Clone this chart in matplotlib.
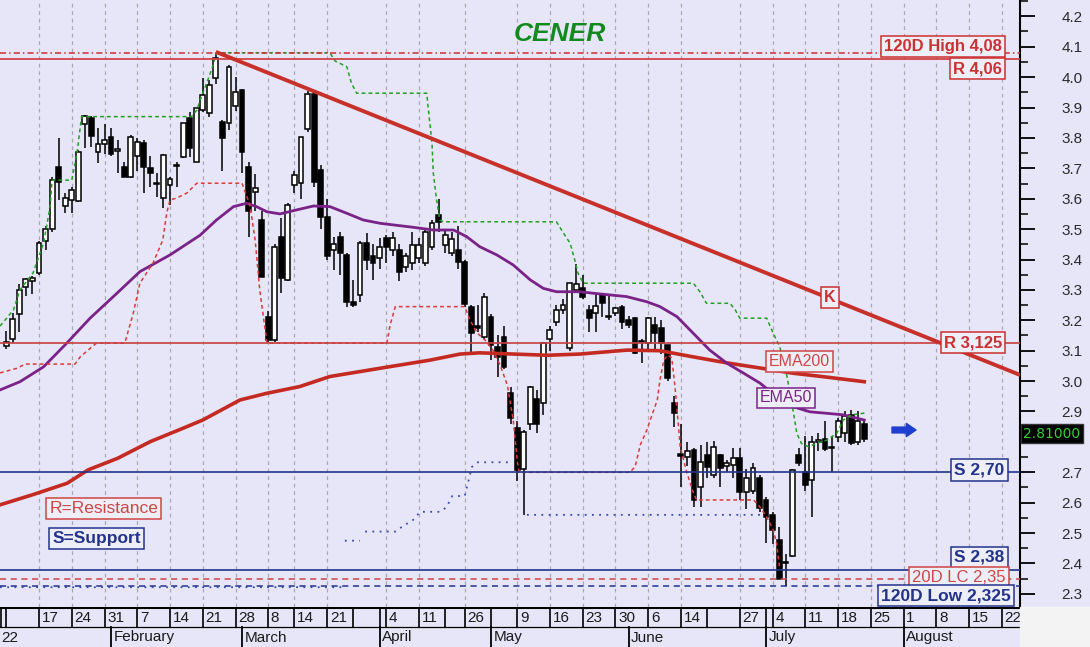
import numpy as np
import pandas as pd
import matplotlib
matplotlib.use('Agg')
import matplotlib.pyplot as plt
from matplotlib.patches import Rectangle

plt.rcParams['font.family'] = ['Liberation Sans', 'DejaVu Sans']

# ---------------- data ----------------
title = "CENER"
missing_days = ['2022-03-07', '2022-03-25', '2022-04-15', '2022-04-18', '2022-04-22',
                '2022-04-25', '2022-05-02', '2022-06-13']
blank_weeks = ['2022-01-10', '2022-03-28', '2022-04-19', '2022-05-03', '2022-06-20']
quarter_marks = ['2022-04-01', '2022-07-01']
month_labels = {2: 'February', 3: 'March', 4: 'April', 5: 'May', 6: 'June', 7: 'July', 8: 'August'}
first_month_label = '22'

opens = [3.115, 3.140, 3.220, 3.310, 3.330, 3.355, 3.460, 3.500, 3.705, 3.576,
         3.596, 3.593, 3.846, 3.864, 3.755, 3.780, 3.804, 3.758, 3.705, 3.672,
         3.740, 3.782, 3.700, 3.648, 3.602, 3.645, 3.708, 3.738, 3.864, 3.722,
         3.891, 3.883, 3.996, 3.853, 3.848, 3.905, 3.958, 3.705, 3.623, 3.530,
         3.212, 3.135, 3.475, 3.332, 3.645, 3.653, 3.830, 3.944, 3.695, 3.540,
         3.430, 3.475, 3.415, 3.261, 3.283, 3.453, 3.410, 3.404, 3.470, 3.431,
         3.431, 3.376, 3.388, 3.404, 3.388, 3.442, 3.547, 3.448, 3.420, 3.431,
         3.393, 3.245, 3.180, 3.146, 3.212, 3.113, 3.146, 2.960, 2.845, 2.710,
         2.860, 2.940, 2.927, 3.140, 3.195, 3.233, 3.108, 3.300, 3.306, 3.234,
         3.223, 3.283, 3.214, 3.223, 3.243, 3.200, 3.206, 3.128, 3.124, 3.185,
         3.174, 3.118, 2.927, 2.760, 2.750, 2.773, 2.652, 2.757, 2.690, 2.757,
         2.720, 2.724, 2.746, 2.636, 2.640, 2.680, 2.609, 2.560, 2.477, 2.400,
         2.424, 2.757, 2.702, 2.675, 2.800, 2.810, 2.780, 2.817, 2.830, 2.890,
         2.800, 2.858]
highs = [3.165, 3.225, 3.320, 3.340, 3.345, 3.460, 3.510, 3.670, 3.800, 3.618,
         3.640, 3.760, 3.875, 3.872, 3.831, 3.846, 3.834, 3.793, 3.720, 3.810,
         3.800, 3.793, 3.740, 3.684, 3.747, 3.670, 3.720, 3.850, 3.886, 3.900,
         3.997, 3.990, 4.080, 3.860, 4.040, 4.000, 3.960, 3.720, 3.680, 3.560,
         3.230, 3.450, 3.536, 3.585, 3.690, 3.802, 3.955, 3.955, 3.710, 3.600,
         3.475, 3.490, 3.420, 3.333, 3.460, 3.487, 3.450, 3.470, 3.480, 3.490,
         3.450, 3.420, 3.490, 3.470, 3.500, 3.530, 3.600, 3.500, 3.490, 3.510,
         3.400, 3.250, 3.250, 3.290, 3.220, 3.150, 3.180, 2.980, 2.870, 2.840,
         2.985, 2.970, 3.130, 3.180, 3.250, 3.270, 3.322, 3.385, 3.350, 3.250,
         3.290, 3.290, 3.280, 3.245, 3.250, 3.215, 3.210, 3.140, 3.210, 3.210,
         3.200, 3.120, 2.950, 2.860, 2.800, 2.780, 2.790, 2.800, 2.803, 2.760,
         2.740, 2.780, 2.780, 2.710, 2.730, 2.690, 2.620, 2.570, 2.520, 2.430,
         2.710, 2.780, 2.820, 2.820, 2.830, 2.870, 2.820, 2.880, 2.900, 2.905,
         2.900, 2.875]
lows = [3.105, 3.125, 3.160, 3.280, 3.285, 3.350, 3.430, 3.490, 3.595, 3.553,
        3.553, 3.590, 3.767, 3.771, 3.716, 3.747, 3.740, 3.684, 3.670, 3.668,
        3.690, 3.618, 3.640, 3.606, 3.569, 3.580, 3.640, 3.735, 3.738, 3.720,
        3.886, 3.870, 3.977, 3.690, 3.826, 3.890, 3.683, 3.475, 3.560, 3.343,
        3.130, 3.130, 3.290, 3.330, 3.620, 3.600, 3.820, 3.640, 3.500, 3.400,
        3.365, 3.350, 3.245, 3.245, 3.260, 3.365, 3.333, 3.370, 3.390, 3.413,
        3.330, 3.360, 3.365, 3.390, 3.380, 3.430, 3.490, 3.420, 3.410, 3.370,
        3.245, 3.092, 3.160, 3.140, 3.070, 3.015, 3.040, 2.860, 2.670, 2.560,
        2.840, 2.830, 2.890, 3.100, 3.180, 3.220, 3.100, 3.290, 3.270, 3.160,
        3.160, 3.210, 3.200, 3.215, 3.170, 3.175, 3.090, 3.060, 3.100, 3.100,
        3.090, 3.000, 2.850, 2.650, 2.720, 2.587, 2.587, 2.680, 2.680, 2.650,
        2.700, 2.680, 2.610, 2.580, 2.630, 2.570, 2.467, 2.465, 2.357, 2.325,
        2.420, 2.720, 2.640, 2.554, 2.770, 2.770, 2.700, 2.800, 2.800, 2.790,
        2.790, 2.800]
closes = [3.130, 3.205, 3.300, 3.335, 3.340, 3.455, 3.500, 3.660, 3.655, 3.602,
          3.627, 3.755, 3.872, 3.806, 3.780, 3.793, 3.747, 3.762, 3.672, 3.804,
          3.787, 3.705, 3.684, 3.650, 3.744, 3.664, 3.712, 3.848, 3.766, 3.897,
          3.941, 3.974, 4.062, 3.799, 4.034, 3.952, 3.755, 3.560, 3.635, 3.343,
          3.135, 3.442, 3.338, 3.579, 3.678, 3.802, 3.944, 3.656, 3.540, 3.410,
          3.450, 3.420, 3.261, 3.250, 3.453, 3.398, 3.388, 3.442, 3.442, 3.470,
          3.360, 3.410, 3.448, 3.448, 3.492, 3.519, 3.524, 3.480, 3.466, 3.393,
          3.254, 3.157, 3.174, 3.278, 3.119, 3.080, 3.047, 2.880, 2.707, 2.834,
          2.980, 2.860, 3.124, 3.167, 3.233, 3.250, 3.322, 3.320, 3.277, 3.206,
          3.247, 3.256, 3.210, 3.240, 3.195, 3.185, 3.092, 3.130, 3.206, 3.157,
          3.124, 3.010, 2.894, 2.755, 2.770, 2.608, 2.735, 2.718, 2.782, 2.713,
          2.730, 2.746, 2.636, 2.680, 2.713, 2.582, 2.554, 2.510, 2.350, 2.405,
          2.708, 2.730, 2.658, 2.800, 2.805, 2.776, 2.780, 2.870, 2.885, 2.795,
          2.870, 2.810]

# indicator lines (trading-day index, price)
ema200_idx = [-0.95, 4, 9.3, 12.5, 17, 22, 27, 30, 35.7, 39.8, 44.8, 49.4, 57, 64.7,
              69.3, 72.3, 77.4, 82.6, 87.6, 94.8, 99.8, 104.8, 110, 115.1, 120.1, 125.3, 131]
ema200_val = [2.593, 2.626, 2.664, 2.708, 2.746, 2.801, 2.845, 2.872, 2.938, 2.960,
              2.982, 3.015, 3.042, 3.069, 3.089, 3.093, 3.089, 3.085, 3.089, 3.102,
              3.100, 3.080, 3.060, 3.043, 3.026, 3.013, 2.998]
ema50_idx = [-0.95, 2.1, 5.7, 9.2, 12.8, 16.9, 20.4, 25.0, 29.6, 32.1, 34.7, 36.7, 38.2,
             39.8, 41.8, 44.3, 46.9, 49.4, 52.0, 54.5, 57.1, 62.1, 65.2, 68.3, 70.3, 72.3,
             74.9, 77.4, 80.0, 82.0, 84.0, 87.6, 89.6, 94.7, 97.8, 99.8, 102.4, 104.9,
             107.4, 110.0, 112.5, 115.1, 117.6, 120.1, 122.7, 125.3, 127.8, 131]
ema50_val = [2.971, 2.998, 3.047, 3.124, 3.207, 3.289, 3.360, 3.415, 3.480, 3.530,
             3.574, 3.585, 3.574, 3.557, 3.550, 3.563, 3.576, 3.574, 3.552, 3.530,
             3.519, 3.506, 3.497, 3.497, 3.475, 3.442, 3.415, 3.382, 3.333, 3.305,
             3.294, 3.294, 3.289, 3.278, 3.261, 3.245, 3.212, 3.157, 3.102, 3.059,
             3.027, 2.993, 2.949, 2.916, 2.899, 2.894, 2.889, 2.872]
upper_idx = [-0.95, 1.1, 2.1, 4.1, 5.7, 6.7, 7.0, 10.0, 10.8, 11.5, 28.3, 29.1, 29.8,
             30.6, 31.6, 32.1, 49.4, 50.2, 52.0, 52.7, 53.5, 64.2, 64.4, 65.0, 65.2,
             65.7, 66.2, 66.7, 84.0, 85.1, 86.1, 86.8, 87.3, 88.1, 104.9, 105.9, 106.9,
             110.5, 111.3, 112.0, 116.1, 117.1, 118.1, 119.2, 120.2, 120.7, 121.4,
             122.5, 123.7, 125.3, 126.8, 127.8, 129.1, 131.1]
upper_val = [3.181, 3.234, 3.300, 3.356, 3.454, 3.574, 3.661, 3.661, 3.749, 3.870,
             3.870, 3.892, 3.936, 3.980, 4.040, 4.080, 4.080, 4.053, 4.034, 3.980,
             3.947, 3.947, 3.903, 3.782, 3.684, 3.596, 3.530, 3.524, 3.524, 3.486,
             3.453, 3.398, 3.355, 3.322, 3.322, 3.294, 3.256, 3.256, 3.234, 3.207,
             3.207, 3.157, 3.113, 3.015, 2.894, 2.828, 2.795, 2.784, 2.795, 2.806,
             2.828, 2.872, 2.889, 2.895]
lower_idx = [-0.95, 1.6, 2.9, 10.5, 11.3, 13.1, 13.8, 18.1, 19.4, 20.4, 22.4, 23.9,
             24.5, 25.0, 26.0, 27.6, 29.1, 36.0, 37.2, 38.0, 38.7, 39.8, 58.1, 58.6,
             59.4, 70.0, 70.8, 71.9, 73.1, 74.3, 75.4, 76.5, 77.4, 78.0, 78.3, 95.2,
             96.0, 96.8, 97.8, 98.6, 99.4, 99.8, 100.4, 101.0, 101.6, 102.1, 102.9,
             103.8, 104.9, 105.4, 114.1, 115.1, 116.1, 117.1, 117.6, 118.1]
lower_val = [3.027, 3.042, 3.056, 3.056, 3.080, 3.113, 3.125, 3.125, 3.224, 3.322,
             3.388, 3.464, 3.553, 3.596, 3.602, 3.619, 3.651, 3.651, 3.579, 3.464,
             3.300, 3.125, 3.125, 3.184, 3.245, 3.245, 3.201, 3.158, 3.135, 3.102,
             3.053, 2.987, 2.872, 2.740, 2.700, 2.700, 2.718, 2.790, 2.839, 2.889,
             2.938, 3.004, 3.069, 3.086, 3.076, 2.982, 2.784, 2.707, 2.632, 2.609,
             2.609, 2.585, 2.553, 2.510, 2.468, 2.379]
low120_idx = [-0.95, 51.3, np.nan, 51.7, 54.0, np.nan, 54.8, 59.4, 60.1, 61.1, 62.1,
              63.2, 66.2, 67.2, 68.1, 70.0, 71.1, 72.0, 77.2, np.nan, 79.5, 115.1]
low120_val = [2.322, 2.322, np.nan, 2.475, 2.475, np.nan, 2.505, 2.505, 2.516, 2.530,
              2.543, 2.570, 2.570, 2.585, 2.622, 2.622, 2.718, 2.733, 2.733, np.nan,
              2.560, 2.560]

trend_idx = [32, 154.8]
trend_val = [4.083, 3.020]

levels = {
    'high120': 4.08, 'r1': 4.06, 'r2': 3.125, 's1': 2.70, 's2': 2.38,
    'lc20': 2.35, 'low120': 2.325,
}
last_price = 2.81

# ---------------- calendar ----------------
cal = pd.bdate_range('2022-01-10', '2022-08-26')
cal = cal[~cal.isin(pd.to_datetime(missing_days))]
n_days = len(cal)
iso = cal.isocalendar()
week_start = [i for i in range(n_days) if i == 0 or iso.week.iloc[i] != iso.week.iloc[i - 1]]
month_start = [i for i in range(1, n_days) if cal[i].month != cal[i - 1].month]
blank_set = set(pd.to_datetime(blank_weeks))
quarter_idx = [int(np.where(cal == pd.Timestamp(d))[0][0]) for d in quarter_marks]

# ---------------- geometry helpers ----------------
W, H = 1090, 647
X0, DX = 6.25, 6.55          # px of index 0, px per day
Y41, PPU = 46.7, 304.0       # px of 4.1, px per unit
def px2i(px):
    return (px - X0) / DX
def py2v(py):
    return 4.1 - (py - Y41) / PPU

BG = '#E6E6F8'
RED = '#CC3030'
NAVY = '#23338C'
PURPLE = '#7B2288'

fig = plt.figure(figsize=(W / 100, H / 100), dpi=100, facecolor=BG)
plot_bottom = 607
ax = fig.add_axes([0, (H - plot_bottom) / H, 1020 / W, plot_bottom / H])
ax.set_facecolor(BG)
ax.set_xlim(px2i(0), px2i(1020))
ax.set_ylim(py2v(plot_bottom), py2v(0))

# grid lines at labelled week starts
for i in week_start:
    if cal[i] in blank_set:
        continue
    ax.axvline(i, color='#A8A8B0', lw=0.9, ls=(0, (3, 3)), zorder=1)

# horizontal levels
LZ = 4.3
ax.axhline(levels['high120'], color=RED, lw=1.1, ls=(0, (4, 2, 1, 2)), zorder=LZ)
ax.axhline(levels['r1'], color='#D04545', lw=1.3, zorder=LZ)
ax.axhline(levels['r2'], color='#C84040', lw=1.2, zorder=LZ)
ax.axhline(levels['s1'], color=NAVY, lw=1.2, zorder=LZ)
ax.axhline(levels['s2'], color=NAVY, lw=1.2, zorder=LZ)
ax.axhline(levels['lc20'], color='#D04545', lw=1.1, ls=(0, (4, 3)), zorder=LZ)
ax.axhline(levels['low120'], color=NAVY, lw=1.1, ls=(0, (4, 3)), zorder=LZ)

# candles
idx = np.arange(len(opens))
o = np.array(opens); h = np.array(highs); l = np.array(lows); c = np.array(closes)
ax.vlines(idx, l, h, color='black', lw=1.1, zorder=3)
up = c >= o
body_lo = np.minimum(o, c)
body_h = np.maximum(np.abs(c - o), 0.004)
ax.bar(idx[up], body_h[up], bottom=body_lo[up], width=0.74, color='white',
       edgecolor='black', linewidth=1.1, zorder=3.2)
ax.bar(idx[~up], body_h[~up], bottom=body_lo[~up], width=0.74, color='black',
       edgecolor='black', linewidth=1.1, zorder=3.2)

# indicator lines
ax.plot(ema200_idx, ema200_val, color='#C42A22', lw=2.6, zorder=4)
ax.plot(ema50_idx, ema50_val, color=PURPLE, lw=2.0, zorder=4)
ax.plot(upper_idx, upper_val, color='#22A022', lw=1.1, ls=(0, (2.5, 2)), zorder=4.2)
ax.plot(lower_idx, lower_val, color='#DD3A3A', lw=1.1, ls=(0, (2.5, 2)), zorder=4.2)
ax.plot(low120_idx, low120_val, color='#3848B0', lw=1.3, ls=(0, (1, 3)), zorder=4.2)
ax.plot(trend_idx, trend_val, color='#C8302A', lw=2.8, zorder=4.5, solid_capstyle='butt')

# axis styling
for s in ['top', 'left', 'bottom']:
    ax.spines[s].set_visible(False)
ax.spines['right'].set_linewidth(1.5)
ax.set_xticks([])
ax.yaxis.tick_right()
major_ticks = np.round(np.arange(2.3, 4.21, 0.1), 2)
ax.set_yticks(major_ticks)
ax.set_yticks(np.round(np.arange(2.35, 4.26, 0.1), 2), minor=True)
# the 2.8 label sits under the last-price tag in the reference
ax.set_yticklabels(['' if abs(v - 2.8) < 1e-6 else f'{v:.1f}' for v in major_ticks])
ax.tick_params(axis='y', which='major', length=11, width=1.3, direction='out',
               pad=19, labelsize=11, labelcolor='#2A2A2A')
ax.tick_params(axis='y', which='minor', length=6, width=1.1, direction='out')

# labelled boxes
def boxed(px_x, px_y, text, color, ha='center', weight='normal', size=11, fc='#EEEEF8'):
    ax.text(px2i(px_x), py2v(px_y), text, ha=ha, va='center', fontsize=size,
            color=color, fontweight=weight, zorder=6, clip_on=False,
            bbox=dict(boxstyle='square,pad=0.18', fc=fc, ec=color, lw=1.1))

boxed(1002, 46.5, '120D High 4,08', RED, ha='right', weight='bold', size=12)
boxed(1002, 68.5, 'R 4,06', RED, ha='right', weight='bold', size=12)
boxed(830, 297.3, 'K', RED, weight='bold', size=11.5)
boxed(1002, 342.5, 'R 3,125', RED, ha='right', weight='bold', size=12)
boxed(799.5, 361.3, 'EMA200', '#D04545', size=11.5)
boxed(786, 398, 'EMA50', PURPLE, size=11.5)
boxed(1004.5, 470, 'S 2,70', NAVY, ha='right', weight='bold', size=12.5)
boxed(1004.5, 557.5, 'S 2,38', NAVY, ha='right', weight='bold', size=12.5)
boxed(1005.5, 577.5, '20D LC 2,35', '#D04545', ha='right', size=12)
boxed(1011, 595.8, '120D Low 2,325', NAVY, ha='right', weight='bold', size=12.5)
boxed(103.8, 508.7, 'R=Resistance', '#D04545', size=12.5)
boxed(96.8, 538.3, 'S=Support', NAVY, weight='bold', size=12.5)

# last price tag
ax.text(px2i(1052), py2v(433.5), f'{last_price:.5f}', ha='center', va='center',
        fontsize=10, color='#30D030', family='DejaVu Sans', zorder=7, clip_on=False,
        bbox=dict(boxstyle='square,pad=0.15', fc='black', ec='#333333', lw=1))

# arrow
ax.annotate('', xy=(px2i(916), py2v(430)), xytext=(px2i(892), py2v(430)),
            arrowprops=dict(arrowstyle='simple,head_width=0.95,head_length=0.7,tail_width=0.42',
                            color='#1F3FD0', mutation_scale=10, shrinkA=0, shrinkB=0),
            zorder=6)

# title
fig.text(560 / W, 1 - 34 / H, title, ha='center', va='center', fontsize=19,
         fontweight='bold', style='italic', color='#128A1E')

# ---------------- date band ----------------
axd = fig.add_axes([0, 0, 1020 / W, (H - plot_bottom) / H])
axd.set_facecolor('white')
axd.set_xlim(px2i(0), px2i(1020))
axd.set_ylim(0, 40)
axd.axis('off')
axd.axhline(40, color='black', lw=2.2)
axd.axhline(20, color='black', lw=0.9)
axd.plot([px2i(1), px2i(1)], [20, 40], color='black', lw=1.2)
for i in week_start:
    axd.plot([i, i], [20, 40], color='black', lw=1.2)
    if cal[i] not in blank_set:
        axd.text(i + 0.4, 29.5, str(cal[i].day), ha='left', va='center',
                 fontsize=11, color='#1A1A1A', clip_on=True)
for i in quarter_idx:
    axd.plot([i, i], [20, 40], color='black', lw=1.2)
for i in month_start:
    axd.plot([i, i], [0, 20], color='black', lw=1.3)
    axd.text(i + 0.4, 9.5, month_labels[cal[i].month], ha='left', va='center',
             fontsize=11, color='#1A1A1A', clip_on=True)
axd.text(px2i(1), 9.5, first_month_label, ha='left', va='center', fontsize=11,
         color='#1A1A1A')

fig.patches.append(Rectangle((1020 / W, 0), 70 / W, (H - plot_bottom) / H,
                             transform=fig.transFigure, color='#F3F3F3', zorder=0))

fig.savefig('out.png', dpi=100, facecolor=BG)
